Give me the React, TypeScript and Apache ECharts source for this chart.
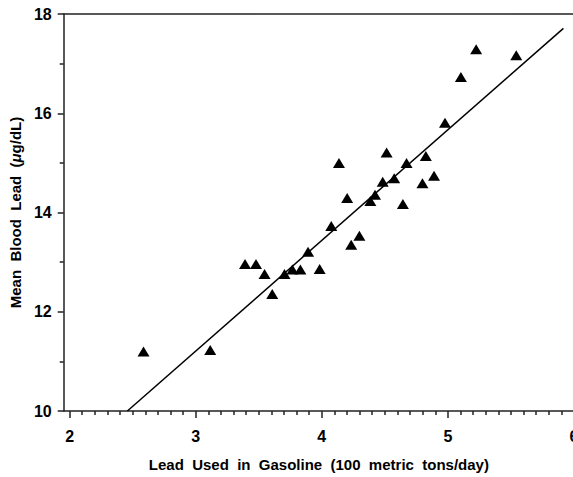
import React, { useEffect, useRef } from "react";
import * as echarts from "echarts";

// Scatter points: lead used in gasoline (100 metric tons/day) vs mean blood lead (µg/dL)
const ptX = [
  2.586, 3.115, 3.391, 3.478, 3.546, 3.607, 3.704, 3.767, 3.83, 3.891,
  3.983, 4.075, 4.136, 4.201, 4.233, 4.298, 4.385, 4.422, 4.483, 4.514,
  4.574, 4.643, 4.672, 4.798, 4.825, 4.89, 4.977, 5.103, 5.224, 5.542,
];
const ptY = [
  11.2, 11.23, 12.96, 12.96, 12.76, 12.36, 12.76, 12.85, 12.85, 13.21,
  12.86, 13.73, 15.0, 14.29, 13.35, 13.53, 14.23, 14.36, 14.62, 15.21,
  14.69, 14.17, 15.0, 14.59, 15.14, 14.74, 15.81, 16.73, 17.29, 17.17,
];
// Regression line end points
const lineX = [2.458, 5.916];
const lineY = [10, 17.71];

const xTickValues = [2, 3, 4, 5, 6];
const yTickLabels = ["10", "12", "14", "16", "18"];

const FONT = "'Liberation Sans', Arial, Helvetica, sans-serif";
const INK = "#000";
const AXIS = "#222";

export default function App() {
  const ref = useRef<HTMLDivElement>(null);
  useEffect(() => {
    if (!ref.current) return;
    const chart = echarts.init(ref.current, undefined, { renderer: "svg" });
    const xMin = 1.953;
    const xMax = 6;
    const minorX: number[] = [];
    for (let i = 1; i < 40; i++) {
      if (i % 10 !== 0) minorX.push(Math.round((2 + i * 0.1) * 100) / 100);
    }
    const tickStyle = {
      fontFamily: FONT,
      fontWeight: "bold" as const,
      fontSize: 16,
      color: INK,
    };
    const nameStyle = {
      fontFamily: FONT,
      fontWeight: "bold" as const,
      fontSize: 15,
      color: INK,
    };
    chart.setOption({
      animation: false,
      backgroundColor: "#fff",
      grid: { left: 61, top: 14, right: 26, bottom: 62, containLabel: false },
      xAxis: [
        {
          type: "value",
          min: xMin,
          max: xMax,
          position: "bottom",
          axisLine: { show: true, lineStyle: { color: AXIS, width: 1.5 } },
          axisTick: {
            show: true,
            customValues: xTickValues,
            length: 7,
            lineStyle: { color: AXIS, width: 1.5 },
          },
          axisLabel: {
            customValues: xTickValues,
            margin: 17,
            ...tickStyle,
          },
          splitLine: { show: false },
          name: "Lead\u00a0\u00a0Used\u00a0\u00a0in\u00a0\u00a0Gasoline\u00a0\u00a0(100\u00a0\u00a0metric\u00a0\u00a0tons/day)",
          nameLocation: "middle",
          nameGap: 46,
          nameTextStyle: { ...nameStyle },
        },
        {
          type: "value",
          min: xMin,
          max: xMax,
          position: "top",
          axisLine: { show: true, lineStyle: { color: AXIS, width: 1.5 } },
          axisTick: { show: false },
          axisLabel: { show: false },
          splitLine: { show: false },
        },
        {
          type: "value",
          min: xMin,
          max: xMax,
          position: "bottom",
          axisLine: { show: false },
          axisTick: {
            show: true,
            customValues: minorX,
            length: 4,
            lineStyle: { color: AXIS, width: 1.5 },
          },
          axisLabel: { show: false },
          splitLine: { show: false },
        },
      ],
      yAxis: {
        type: "value",
        min: 10,
        max: 18,
        interval: 2,
        axisLine: { show: true, lineStyle: { color: AXIS, width: 1.5 } },
        axisTick: { show: true, length: 6, lineStyle: { color: AXIS, width: 1.5 } },
        minorTick: { show: true, splitNumber: 2, length: 4, lineStyle: { color: AXIS, width: 1.5 } },
        axisLabel: {
          margin: 12,
          ...tickStyle,
          formatter: (v: number) => yTickLabels[Math.round((v - 10) / 2)] ?? String(v),
        },
        splitLine: { show: false },
        name: "Mean\u00a0\u00a0Blood\u00a0\u00a0Lead\u00a0\u00a0({i|μ}g/dL)",
        nameLocation: "middle",
        nameGap: 33,
        nameTextStyle: {
          ...nameStyle,
          rich: {
            i: { ...nameStyle, fontStyle: "italic" },
          },
        },
      },
      series: [
        {
          type: "line",
          xAxisIndex: 0,
          data: lineX.map((x, i) => [x, lineY[i]]),
          showSymbol: false,
          symbol: "none",
          lineStyle: { color: INK, width: 1.5 },
          silent: true,
          z: 2,
        },
        {
          type: "scatter",
          xAxisIndex: 0,
          data: ptX.map((x, i) => [x, ptY[i]]),
          symbol: "triangle",
          symbolSize: [12, 10],
          itemStyle: { color: INK, opacity: 1 },
          z: 3,
        },
      ],
    });
    return () => chart.dispose();
  }, []);
  return (
    <div
      ref={ref}
      style={{ position: "fixed", left: 0, top: 0, width: 600, height: 477 }}
    />
  );
}
